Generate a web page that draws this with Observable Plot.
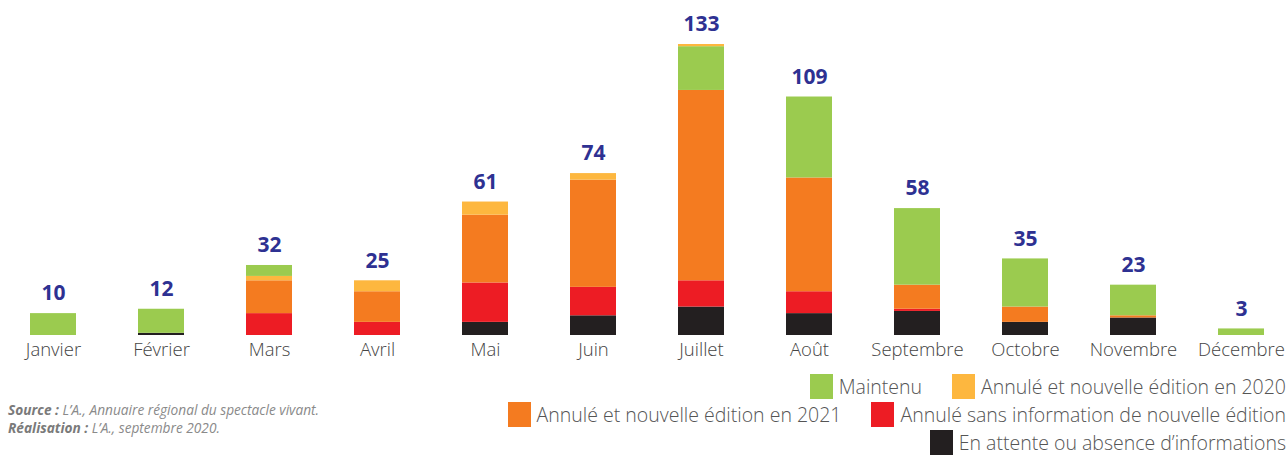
<!DOCTYPE html>
<html><head><meta charset="utf-8">
<script src="https://cdn.jsdelivr.net/npm/d3@7"></script>
<script src="https://cdn.jsdelivr.net/npm/@observablehq/plot@0.6"></script>
<style>
body{margin:0;background:#fff;}
#wrap{position:relative;width:1288px;height:456px;overflow:hidden;font-family:"Open Sans",sans-serif;}
#chart{position:absolute;left:0;top:0;}
#caption{position:absolute;left:8px;top:401px;font-family:"Open Sans",sans-serif;font-style:italic;font-size:13.7px;color:#8a8a8a;line-height:18px;}
#caption b{font-weight:700;color:#7a7a7a;}
#legend{position:absolute;right:2px;top:374px;}
.row{display:flex;justify-content:flex-end;height:28px;align-items:flex-start;}
.item{display:flex;align-items:center;margin-left:30px;}
.sw{width:23px;height:25px;margin-right:6px;}
.lab{font-size:19.5px;font-weight:300;color:#555;white-space:nowrap;line-height:20px;}
</style></head>
<body><div id="wrap"><div id="chart"></div><div id="caption"></div><div id="legend"></div></div>
<script>
const months = ["Janvier","Février","Mars","Avril","Mai","Juin","Juillet","Août","Septembre","Octobre","Novembre","Décembre"];
const series = ["En attente ou absence d’informations","Annulé sans information de nouvelle édition","Annulé et nouvelle édition en 2021","Annulé et nouvelle édition en 2020","Maintenu"];
const colors = ["#231f20","#ed1c24","#f47b20","#fdb73f","#9bcb4f"];
const enAttente   = [0,1,0,0,6,9,13,10,11,6,8,0];
const sansInfo    = [0,0,10,6,18,13,12,10,1,0,0,0];
const nouv2021    = [0,0,15,14,31,49,87,52,11,7,1,0];
const nouv2020    = [0,0,2,5,6,3,1,0,0,0,0,0];
const maintenu    = [10,11,5,0,0,0,20,37,35,22,14,3];
const totals      = [10,12,32,25,61,74,133,109,58,35,23,3];
// months where "2020" slice sits above "Maintenu"
const nouv2020OnTop = ["Juillet"];
const legendRows = [
  ["Maintenu","Annulé et nouvelle édition en 2020"],
  ["Annulé et nouvelle édition en 2021","Annulé sans information de nouvelle édition"],
  ["En attente ou absence d’informations"]
];

const valuesBySeries = [enAttente, sansInfo, nouv2021, nouv2020, maintenu];
const rows = [];
months.forEach((m, i) => {
  let order = [0,1,2,3,4];
  if (nouv2020OnTop.includes(m)) order = [0,1,2,4,3];
  order.forEach(s => rows.push({month: m, series: series[s], value: valuesBySeries[s][i]}));
});
const totalRows = months.map((m, i) => ({month: m, total: totals[i]}));

const chart = Plot.plot({
  width: 1288,
  height: 370,
  marginTop: 44,
  marginBottom: 35,
  marginLeft: 0,
  marginRight: 0,
  x: {domain: months, range: [-3, 1297], paddingInner: 0.575, paddingOuter: 0.2875, label: null},
  y: {domain: [0, 133], axis: null},
  color: {domain: series, range: colors},
  style: {fontFamily: "'Open Sans', sans-serif", background: "white", overflow: "visible"},
  marks: [
    Plot.barY(rows, {x: "month", y: "value", fill: "series", order: null}),
    Plot.text(totalRows, {x: "month", y: "total", text: d => String(d.total), dy: -20, fill: "#2e3192", fontSize: 21, fontWeight: "bold", fontFamily: "'Open Sans', sans-serif"}),
    Plot.axisX({tickSize: 0, tickPadding: 7, fontSize: 18.5, fontWeight: 300, label: null, fill: "#444"})
  ]
});
document.getElementById("chart").appendChild(chart);

document.getElementById("caption").innerHTML =
  "<b>Source :</b> L’A., Annuaire régional du spectacle vivant.<br><b>Réalisation :</b> L’A., septembre 2020.";

const legend = document.getElementById("legend");
legendRows.forEach(r => {
  const row = document.createElement("div"); row.className = "row";
  r.forEach(name => {
    const it = document.createElement("div"); it.className = "item";
    const sw = document.createElement("div"); sw.className = "sw"; sw.style.background = colors[series.indexOf(name)];
    const lb = document.createElement("span"); lb.className = "lab"; lb.textContent = name;
    it.appendChild(sw); it.appendChild(lb); row.appendChild(it);
  });
  legend.appendChild(row);
});
</script></body></html>
